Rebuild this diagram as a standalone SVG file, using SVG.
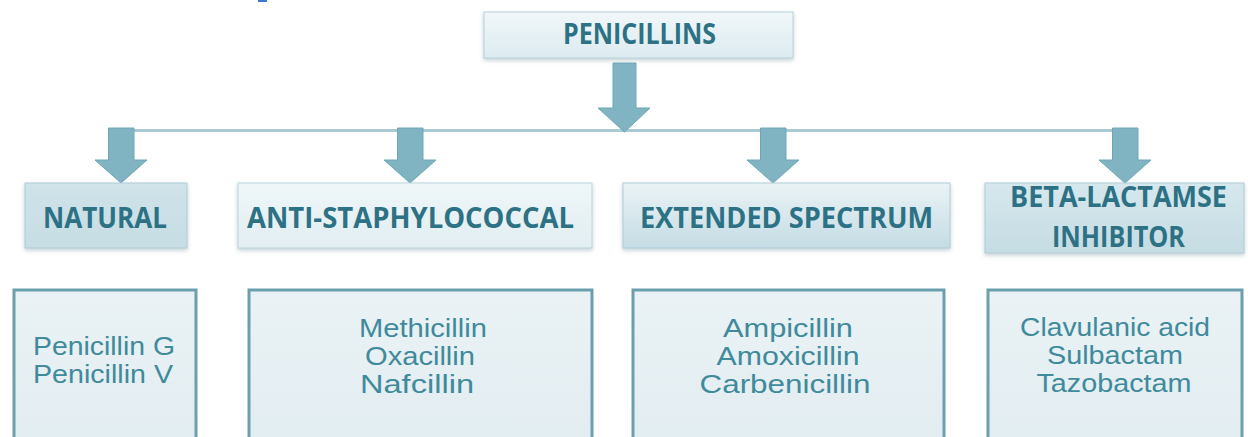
<svg xmlns="http://www.w3.org/2000/svg" width="1248" height="437" viewBox="0 0 1248 437">
<style>
.hdr{font-family:"Open Sans","Liberation Sans",sans-serif;font-weight:bold;font-size:29px;fill:#2d7184;text-anchor:middle}
.hdr2{font-family:"Open Sans","Liberation Sans",sans-serif;font-weight:bold;font-size:28px;fill:#2d7184;text-anchor:middle}
.itm{font-family:"Liberation Sans",Arial,sans-serif;font-size:25px;fill:#3f8a9b;text-anchor:middle}
.arrow{fill:#80b4c3;stroke:#6fa6b6;stroke-width:1}
.list{fill:url(#gList);stroke:#6b9fae;stroke-width:3}
</style>
<defs>
<linearGradient id="gTop" x1="0" y1="0" x2="0" y2="1"><stop offset="0" stop-color="#f1f7f9"/><stop offset="1" stop-color="#dcebf0"/></linearGradient>
<linearGradient id="gNat" x1="0" y1="0" x2="0" y2="1"><stop offset="0" stop-color="#cfe3e9"/><stop offset="1" stop-color="#c6dde4"/></linearGradient>
<linearGradient id="gAnti" x1="0" y1="0" x2="0" y2="1"><stop offset="0" stop-color="#eef6f8"/><stop offset="1" stop-color="#e2eef2"/></linearGradient>
<linearGradient id="gExt" x1="0" y1="0" x2="0" y2="1"><stop offset="0" stop-color="#eaf3f6"/><stop offset="1" stop-color="#c4dce4"/></linearGradient>
<linearGradient id="gBeta" x1="0" y1="0" x2="0" y2="1"><stop offset="0" stop-color="#d6e8ed"/><stop offset="1" stop-color="#c5dce3"/></linearGradient>
<linearGradient id="gList" x1="0" y1="0" x2="0" y2="1"><stop offset="0" stop-color="#eaf2f5"/><stop offset="1" stop-color="#e2edf1"/></linearGradient>
<filter id="sh" x="-10%" y="-20%" width="120%" height="150%"><feDropShadow dx="0" dy="2" stdDeviation="2" flood-color="#7a9aa4" flood-opacity="0.45"/></filter>
</defs>
<rect width="1248" height="437" fill="#ffffff"/>
<rect x="258" y="0" width="9" height="2" fill="#3c78d8"/>

<g id="connectors">
<rect x="108" y="129" width="1030" height="3" fill="#a9cad3"/>
<path class="arrow" d="M613,63 H636 V108 H650 L624.5,132 L598,108 H613 Z"/>
<path class="arrow" d="M108.5,128 H134 V160 H147 L121,183 L95,160 H108.5 Z"/>
<path class="arrow" d="M397.5,128 H423 V160 H436 L410,183 L384,160 H397.5 Z"/>
<path class="arrow" d="M760.5,128 H786 V160 H799 L773,183 L747,160 H760.5 Z"/>
<path class="arrow" d="M1112.5,128 H1138 V160 H1151 L1125,183 L1099,160 H1112.5 Z"/>
</g>

<g id="penicillins">
<rect x="484" y="12" width="309" height="46" fill="url(#gTop)" stroke="#b8d2da" stroke-width="1" filter="url(#sh)"/>
<text class="hdr" x="639.5" y="44" textLength="153" lengthAdjust="spacingAndGlyphs">PENICILLINS</text>
</g>

<g id="natural">
<rect x="25" y="183" width="162" height="65" fill="url(#gNat)" stroke="#b0cdd6" stroke-width="1" filter="url(#sh)"/>
<text class="hdr" x="105" y="228" textLength="124" lengthAdjust="spacingAndGlyphs">NATURAL</text>
</g>

<g id="anti">
<rect x="238" y="183" width="354" height="65" fill="url(#gAnti)" stroke="#bcd5dc" stroke-width="1" filter="url(#sh)"/>
<text class="hdr" x="410.5" y="228" textLength="327" lengthAdjust="spacingAndGlyphs">ANTI-STAPHYLOCOCCAL</text>
</g>

<g id="extended">
<rect x="623" y="183" width="327" height="65" fill="url(#gExt)" stroke="#b0cdd6" stroke-width="1" filter="url(#sh)"/>
<text class="hdr" x="786.5" y="228" textLength="293" lengthAdjust="spacingAndGlyphs">EXTENDED SPECTRUM</text>
</g>

<g id="beta">
<rect x="985" y="183" width="259" height="70" fill="url(#gBeta)" stroke="#b0cdd6" stroke-width="1" filter="url(#sh)"/>
<text class="hdr2" x="1118.5" y="207" textLength="217" lengthAdjust="spacingAndGlyphs">BETA-LACTAMSE</text>
<text class="hdr2" x="1118.5" y="247" textLength="133" lengthAdjust="spacingAndGlyphs">INHIBITOR</text>
</g>

<g id="natural-list">
<rect class="list" x="14" y="290" width="182" height="160"/>
<text class="itm" x="104" y="355" textLength="142" lengthAdjust="spacingAndGlyphs">Penicillin G</text>
<text class="itm" x="103" y="383" textLength="140" lengthAdjust="spacingAndGlyphs">Penicillin V</text>
</g>

<g id="anti-list">
<rect class="list" x="249" y="290" width="343" height="160"/>
<text class="itm" x="423" y="337" textLength="128" lengthAdjust="spacingAndGlyphs">Methicillin</text>
<text class="itm" x="420" y="365" textLength="110" lengthAdjust="spacingAndGlyphs">Oxacillin</text>
<text class="itm" x="417" y="393" textLength="114" lengthAdjust="spacingAndGlyphs">Nafcillin</text>
</g>

<g id="extended-list">
<rect class="list" x="633" y="290" width="311" height="160"/>
<text class="itm" x="788" y="337" textLength="130" lengthAdjust="spacingAndGlyphs">Ampicillin</text>
<text class="itm" x="788" y="365" textLength="143" lengthAdjust="spacingAndGlyphs">Amoxicillin</text>
<text class="itm" x="785" y="393" textLength="171" lengthAdjust="spacingAndGlyphs">Carbenicillin</text>
</g>

<g id="beta-list">
<rect class="list" x="988" y="290" width="254" height="160"/>
<text class="itm" x="1115" y="336" textLength="190" lengthAdjust="spacingAndGlyphs">Clavulanic acid</text>
<text class="itm" x="1115" y="364" textLength="136" lengthAdjust="spacingAndGlyphs">Sulbactam</text>
<text class="itm" x="1114" y="392" textLength="155" lengthAdjust="spacingAndGlyphs">Tazobactam</text>
</g>
</svg>
